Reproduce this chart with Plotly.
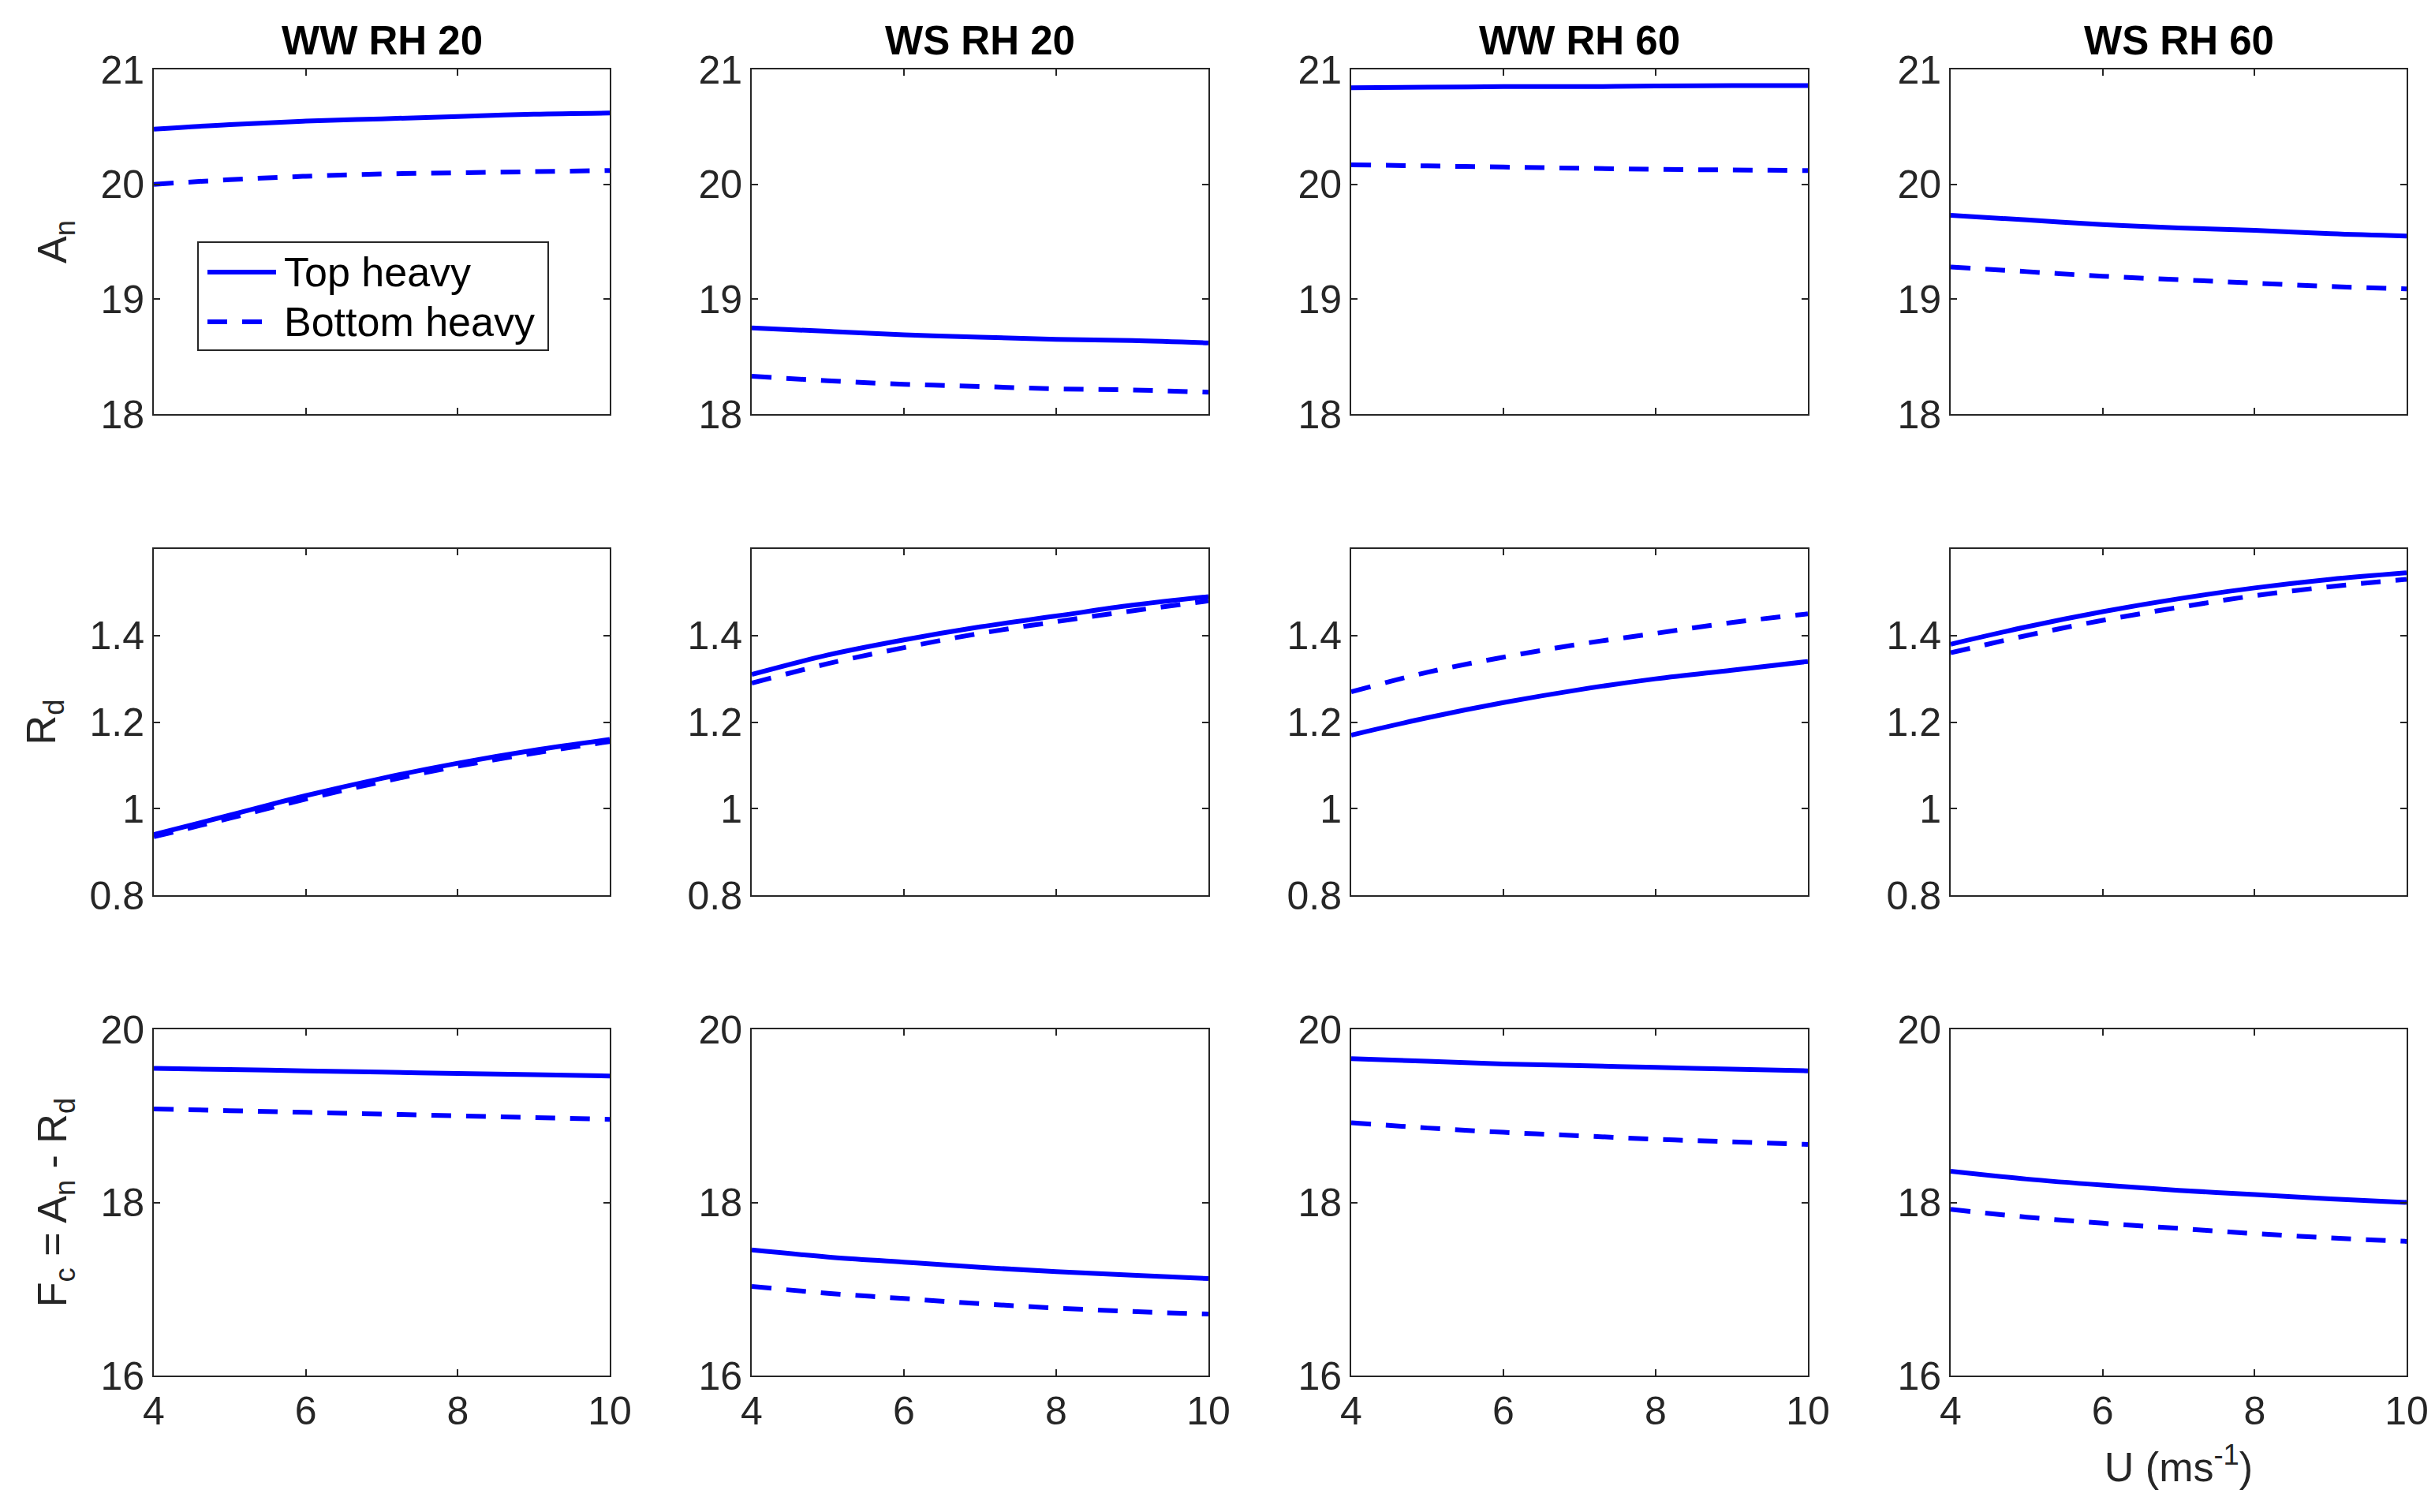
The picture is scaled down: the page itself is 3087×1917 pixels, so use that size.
import plotly.graph_objects as go
from plotly.subplots import make_subplots

# wind speed U (m s-1)
u = [4, 5, 6, 7, 8, 9, 10]

titles = ['WW RH 20', 'WS RH 20', 'WW RH 60', 'WS RH 60']
legend_names = ['Top heavy', 'Bottom heavy']

# A_n
an_top = [
    [20.48, 20.52, 20.55, 20.57, 20.59, 20.61, 20.62],
    [18.75, 18.72, 18.69, 18.67, 18.65, 18.64, 18.62],
    [20.84, 20.845, 20.85, 20.85, 20.855, 20.86, 20.86],
    [19.73, 19.69, 19.65, 19.62, 19.60, 19.57, 19.55],
]
an_bottom = [
    [20.00, 20.04, 20.07, 20.09, 20.10, 20.11, 20.12],
    [18.33, 18.29, 18.26, 18.24, 18.22, 18.21, 18.19],
    [20.17, 20.16, 20.15, 20.14, 20.13, 20.125, 20.12],
    [19.28, 19.24, 19.20, 19.17, 19.14, 19.11, 19.09],
]

# R_d
rd_top = [
    [0.94, 0.985, 1.03, 1.07, 1.105, 1.135, 1.16],
    [1.31, 1.355, 1.39, 1.42, 1.445, 1.47, 1.49],
    [1.17, 1.21, 1.245, 1.275, 1.30, 1.32, 1.34],
    [1.38, 1.42, 1.455, 1.485, 1.51, 1.53, 1.545],
]
rd_bottom = [
    [0.935, 0.978, 1.022, 1.062, 1.098, 1.128, 1.155],
    [1.29, 1.335, 1.372, 1.405, 1.432, 1.457, 1.48],
    [1.27, 1.315, 1.35, 1.38, 1.405, 1.43, 1.45],
    [1.36, 1.40, 1.435, 1.465, 1.492, 1.513, 1.53],
]

# F_c = A_n - R_d
fc_top = [
    [19.55, 19.535, 19.52, 19.505, 19.49, 19.475, 19.46],
    [17.45, 17.37, 17.31, 17.25, 17.20, 17.16, 17.12],
    [19.66, 19.63, 19.60, 19.58, 19.56, 19.54, 19.52],
    [18.36, 18.27, 18.20, 18.14, 18.09, 18.04, 18.00],
]
fc_bottom = [
    [19.08, 19.06, 19.04, 19.02, 19.00, 18.98, 18.96],
    [17.03, 16.95, 16.89, 16.83, 16.78, 16.74, 16.71],
    [18.92, 18.86, 18.81, 18.77, 18.73, 18.70, 18.67],
    [17.92, 17.83, 17.76, 17.70, 17.64, 17.59, 17.55],
]

row_labels = ['A<sub>n</sub>', 'R<sub>d</sub>', 'F<sub>c</sub> = A<sub>n</sub> - R<sub>d</sub>']
row_ranges = [[18, 21], [0.8, 1.6], [16, 20]]
row_ticks = [[18, 19, 20, 21], [0.8, 1, 1.2, 1.4], [16, 18, 20]]
row_ticktext = [['18', '19', '20', '21'], ['0.8', '1', '1.2', '1.4'], ['16', '18', '20']]
x_ticks = [4, 6, 8, 10]

W, H = 3087, 1917
col_px = [(187, 765), (945, 1524), (1705, 2284), (2465, 3043)]
row_px = [(80, 517), (688, 1127), (1297, 1736)]

FONT = 'Liberation Sans, Arial, Helvetica, sans-serif'
AXC = '#262626'
BLUE = '#0000ff'
DASH = '25px,19px'
LW = 6

fig = make_subplots(rows=3, cols=4)

series = [(an_top, an_bottom), (rd_top, rd_bottom), (fc_top, fc_bottom)]
for r, (top, bottom) in enumerate(series):
    for c in range(4):
        fig.add_trace(go.Scatter(x=u, y=top[c], mode='lines', name=legend_names[0],
                                 line=dict(color=BLUE, width=LW, shape='spline'),
                                 showlegend=False),
                      row=r + 1, col=c + 1)
        fig.add_trace(go.Scatter(x=u, y=bottom[c], mode='lines', name=legend_names[1],
                                 line=dict(color=BLUE, width=LW, shape='spline', dash=DASH),
                                 showlegend=False),
                      row=r + 1, col=c + 1)

        x0, x1 = col_px[c]
        y0, y1 = row_px[r]
        fig.update_xaxes(domain=[x0 / W, x1 / W], range=[4, 10],
                         tickvals=x_ticks, showticklabels=(r == 2),
                         row=r + 1, col=c + 1)
        fig.update_yaxes(domain=[1 - y1 / H, 1 - y0 / H], range=row_ranges[r],
                         tickvals=row_ticks[r], ticktext=row_ticktext[r],
                         row=r + 1, col=c + 1)
        if c == 0:
            fig.update_yaxes(title_text=row_labels[r], title_standoff=26,
                             row=r + 1, col=c + 1)

fig.update_xaxes(title_text='U (ms<sup>-1</sup>)', title_standoff=26, row=3, col=4)

common = dict(showline=True, linecolor=AXC, linewidth=2, mirror='ticks',
              ticks='inside', ticklen=8, tickwidth=2, tickcolor=AXC,
              showgrid=False, zeroline=False, automargin=False,
              tickfont=dict(family=FONT, size=50, color=AXC),
              title_font=dict(family=FONT, size=52, color=AXC))
fig.update_xaxes(**common)
fig.update_yaxes(**common)

for c, t in enumerate(titles):
    x0, x1 = col_px[c]
    fig.add_annotation(text='<b>' + t + '</b>', xref='paper', yref='paper',
                       x=(x0 + x1) / 2 / W, y=1 - 74 / H, xanchor='center', yanchor='bottom',
                       showarrow=False, font=dict(family=FONT, size=51, color='black'))

# legend box drawn in the first panel (MATLAB style, long line samples)
lx0, lx1, ly0, ly1 = 243, 687, 299, 436
fig.add_shape(type='rect', xref='paper', yref='paper',
              x0=lx0 / W, x1=lx1 / W, y0=1 - ly1 / H, y1=1 - ly0 / H,
              line=dict(color=AXC, width=2), fillcolor='white', layer='above')
for i, (name, dash) in enumerate(zip(legend_names, ['solid', DASH])):
    yy = 1 - (337 + 63 * i) / H
    fig.add_shape(type='line', xref='paper', yref='paper',
                  x0=255 / W, x1=342 / W, y0=yy, y1=yy,
                  line=dict(color=BLUE, width=LW, dash=dash), layer='above')
    fig.add_annotation(text=name, xref='paper', yref='paper', x=350 / W, y=yy,
                       xanchor='left', yanchor='middle', showarrow=False,
                       font=dict(family=FONT, size=52, color='black'))

fig.update_layout(
    width=W, height=H,
    margin=dict(l=0, r=0, t=0, b=0),
    plot_bgcolor='white', paper_bgcolor='white',
    showlegend=False,
)

fig.write_html('out.html')
